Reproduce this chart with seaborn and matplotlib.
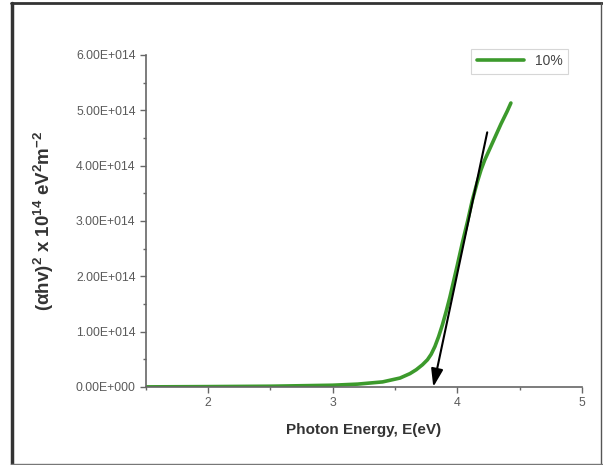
import numpy as np
import pandas as pd
import matplotlib
matplotlib.use("Agg")
import matplotlib.pyplot as plt
from matplotlib.lines import Line2D
from matplotlib.ticker import MultipleLocator, FuncFormatter
import seaborn as sns

# Tauc plot data: photon energy (eV) and (alpha h nu)^2
energy = [1.50, 2.00, 2.50, 3.00, 3.20, 3.40, 3.54, 3.62, 3.67, 3.72,
          3.76, 3.79, 3.82, 3.85, 3.88, 3.91, 3.94, 3.97, 4.00, 4.04,
          4.083, 4.12, 4.16, 4.19, 4.22, 4.26, 4.30, 4.35, 4.40, 4.43]
tauc = [0.000e14, 0.005e14, 0.012e14, 0.030e14, 0.050e14, 0.090e14,
        0.160e14, 0.240e14, 0.310e14, 0.400e14, 0.490e14, 0.590e14,
        0.730e14, 0.910e14, 1.120e14, 1.360e14, 1.620e14, 1.910e14,
        2.200e14, 2.600e14, 3.000e14, 3.370e14, 3.700e14, 3.920e14,
        4.100e14, 4.300e14, 4.500e14, 4.750e14, 4.980e14, 5.130e14]
series_label = "10%"

# Linear extrapolation of the absorption edge
fit_start = (4.24, 4.60e14)
fit_end = (3.807, 0.0)

df = pd.DataFrame({"E": energy, "val": tauc})

sns.set_style("white")
plt.rcParams["font.family"] = ["Liberation Sans", "DejaVu Sans"]
plt.rcParams["mathtext.fontset"] = "custom"
plt.rcParams["mathtext.rm"] = "Liberation Sans"
plt.rcParams["mathtext.it"] = "Liberation Sans"
plt.rcParams["mathtext.bf"] = "Liberation Sans:bold"

fig = plt.figure(figsize=(6.03, 4.65), dpi=100)
ax = fig.add_axes([0.242, 0.168, 0.723, 0.714])

sns.lineplot(data=df, x="E", y="val", ax=ax, color="#3c9a2c", lw=2.6,
             label=series_label, legend=False)

ax.annotate("", xy=fit_end, xytext=fit_start,
            arrowprops=dict(arrowstyle="-|>,head_length=0.9,head_width=0.3",
                            color="black", lw=1.5,
                            mutation_scale=12, shrinkA=0, shrinkB=0))

ax.set_xlim(1.5, 5.0)
ax.set_ylim(0, 6e14)
ax.xaxis.set_major_locator(MultipleLocator(1))
ax.xaxis.set_minor_locator(MultipleLocator(0.5))
ax.yaxis.set_major_locator(MultipleLocator(1e14))
ax.yaxis.set_minor_locator(MultipleLocator(0.5e14))
ax.xaxis.set_major_formatter(FuncFormatter(lambda v, p: f"{v:g}"))
ax.yaxis.set_major_formatter(FuncFormatter(
    lambda v, p: "0.00E+000" if v == 0 else f"{v/1e14:.2f}E+014"))

gray = "#666666"
for s in ("top", "right"):
    ax.spines[s].set_visible(False)
for s in ("left", "bottom"):
    ax.spines[s].set_color(gray)
    ax.spines[s].set_linewidth(1.2)
ax.tick_params(which="major", direction="out", length=4, width=1, color=gray,
               labelsize=8.8, labelcolor="#5a5a5a", left=True, bottom=True)
ax.tick_params(which="minor", direction="out", length=2.5, width=1, color=gray,
               left=True, bottom=True)

ax.set_xlabel("Photon Energy, E(eV)", fontsize=11, fontweight="bold",
              color="#333333", labelpad=10)
ax.set_ylabel(r"$\mathbf{(\alpha hv)^{2}\ x\ 10^{14}\ eV^{2}m^{-2}}$",
              fontsize=13.5, color="#333333", labelpad=14)

handle = Line2D([], [], color="#3c9a2c", lw=2.6)
leg = ax.legend([handle], [series_label], loc="upper right",
                bbox_to_anchor=(0.985, 1.04), frameon=True, fontsize=10,
                handlelength=3.4, borderpad=0.4, fancybox=False)
leg.get_frame().set_edgecolor("#cccccc")
leg.get_frame().set_linewidth(0.8)
for t in leg.get_texts():
    t.set_color("#444444")

# Page frame around the whole figure
fig.add_artist(Line2D([0.020, 0.020], [0.0, 0.994], transform=fig.transFigure,
                      color="#333333", lw=2.5))
fig.add_artist(Line2D([0.018, 0.998], [0.994, 0.994], transform=fig.transFigure,
                      color="#333333", lw=2.0))
fig.add_artist(Line2D([0.997, 0.997], [0.0, 0.994], transform=fig.transFigure,
                      color="#555555", lw=1.0))
fig.add_artist(Line2D([0.018, 0.998], [0.003, 0.003], transform=fig.transFigure,
                      color="#777777", lw=1.0))

fig.savefig("out.png", dpi=100)
